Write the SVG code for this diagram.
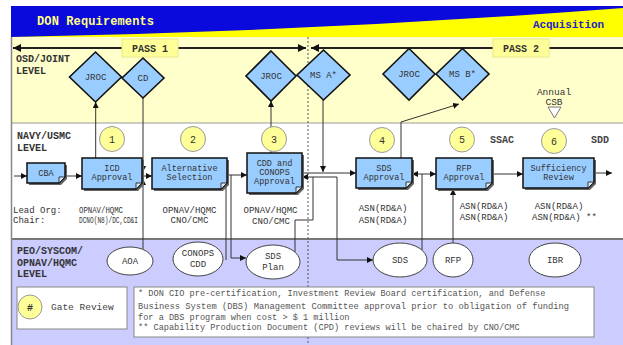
<svg xmlns="http://www.w3.org/2000/svg" width="623" height="345" viewBox="0 0 623 345">
<style>
.t{font-family:"Liberation Mono","DejaVu Sans Mono",monospace;fill:#333}
.lv{font-size:10px;font-weight:bold}
.bx{fill:#99CCFF;stroke:#111;stroke-width:1.5}
.sh{fill:#666}
.fd{fill:#D8E8F8;stroke:#111;stroke-width:0.8}
.dia{fill:#99CCFF;stroke:#111;stroke-width:1.6}
.num{fill:#FFFF99;stroke:#999;stroke-width:1}
.el{fill:#fff;stroke:#444;stroke-width:1}
.ln{fill:none;stroke:#333;stroke-width:1}
.bt{font-size:8.5px;text-anchor:middle}
.mt{font-size:9px;text-anchor:middle}
.ft{font-size:8.6px;fill:#555}
</style>
<defs>
<marker id="a" viewBox="0 0 6 6" refX="6" refY="3" markerWidth="6" markerHeight="6" markerUnits="userSpaceOnUse" orient="auto-start-reverse"><path d="M0,0 L6,3 L0,6 Z" fill="#111"/></marker>
<marker id="p" viewBox="0 0 8 8" refX="8" refY="4" markerWidth="8" markerHeight="8" markerUnits="userSpaceOnUse" orient="auto-start-reverse"><path d="M0,0 L8,4 L0,8 Z" fill="#111"/></marker>
</defs>
<rect width="623" height="345" fill="#fff"/>
<g id="zones">
<rect x="11" y="37" width="612" height="86" fill="#FFFFCC"/>
<rect x="11" y="123" width="612" height="116" fill="#fff"/>
<rect x="11" y="239" width="612" height="106" fill="#CCCCFF"/>
<line x1="11" y1="123" x2="623" y2="123" stroke="#999" stroke-width="1"/>
<line x1="11" y1="239" x2="623" y2="239" stroke="#777" stroke-width="2"/>
<line x1="11.5" y1="37" x2="11.5" y2="345" stroke="#888" stroke-width="1.5"/>
<line x1="308" y1="37" x2="308" y2="345" stroke="#555" stroke-width="1" stroke-dasharray="2,2"/>
</g>
<g id="banner">
<rect x="11" y="6" width="612" height="31" fill="#FFFF00"/>
<path d="M11,6 H623 V8 Q317,31.5 11,37 Z" fill="#0A0ADC"/>
<text class="t" x="37" y="25" style="font-size:12px;font-weight:bold;fill:#FFFF80" textLength="117">DON Requirements</text>
<text class="t" x="533" y="28" style="font-size:11px;font-weight:bold;fill:#2222CC" textLength="71">Acquisition</text>
</g>
<g id="pass">
<path d="M13,48 H306" stroke="#222" stroke-width="2" marker-start="url(#p)" marker-end="url(#p)"/>
<path d="M311,48 H623" stroke="#222" stroke-width="2" marker-start="url(#p)"/>
<rect x="122" y="39" width="56" height="18" fill="#FFFF99" stroke="#E8E890"/>
<text class="t" x="150" y="51.5" style="font-size:10px;font-weight:bold;text-anchor:middle">PASS 1</text>
<rect x="493" y="39" width="56" height="18" fill="#FFFF99" stroke="#E8E890"/>
<text class="t" x="521" y="51.5" style="font-size:10px;font-weight:bold;text-anchor:middle">PASS 2</text>
</g>
<g id="levels">
<text class="t lv" x="16" y="61.5">OSD/JOINT</text>
<text class="t lv" x="16" y="73.5">LEVEL</text>
<text class="t lv" x="17" y="138.5">NAVY/USMC</text>
<text class="t lv" x="17" y="150.5">LEVEL</text>
<text class="t lv" x="17" y="253.5">PEO/SYSCOM/</text>
<text class="t lv" x="17" y="265.5">OPNAV/HQMC</text>
<text class="t lv" x="17" y="276.5">LEVEL</text>
</g>
<g id="connectors">
<path class="ln" d="M14,176 H27" marker-end="url(#a)"/>
<path class="ln" d="M65,176 H82" marker-end="url(#a)"/>
<path class="ln" d="M142,176 H152" marker-end="url(#a)"/>
<path class="ln" d="M143,98 V172" marker-end="url(#a)"/>
<path class="ln" d="M143,249 V179" marker-end="url(#a)"/>
<path class="ln" d="M95.7,158 V102" marker-end="url(#a)"/>
<path class="ln" d="M227,175 H247" marker-end="url(#a)"/>
<path class="ln" d="M226,260 V178" marker-end="url(#a)"/>
<path class="ln" d="M231,175 V258 H246" marker-end="url(#a)"/>
<path class="ln" d="M271,153 V101" marker-end="url(#a)"/>
<path class="ln" d="M323,100 V172" marker-end="url(#a)"/>
<path class="ln" d="M302,173 H356" marker-end="url(#a)"/>
<path class="ln" d="M337,177 H302" marker-end="url(#a)"/>
<path class="ln" d="M337,177 V260 H373" marker-end="url(#a)"/>
<path class="ln" d="M295,252 V220 H313 V177"/>
<path class="ln" d="M422,250 V174"/>
<path class="ln" d="M422,174 H412" marker-end="url(#a)"/>
<path class="ln" d="M422,174 H436" marker-end="url(#a)"/>
<path class="ln" d="M453,243 V189" marker-end="url(#a)"/>
<path class="ln" d="M492,174 H523" marker-end="url(#a)"/>
<path class="ln" d="M594,173 H612" marker-end="url(#a)"/>
<path class="ln" d="M401,158 V122 L459,104" stroke="#555" marker-end="url(#a)"/>
</g>
<g id="jroc1"><path class="dia" d="M95.5,52 L121.5,77 L95.5,102 L69.5,77 Z"/><text class="t mt" x="95.5" y="80">JROC</text></g>
<g id="cd"><path class="dia" d="M143,58 L164,78 L143,98 L122,78 Z"/><text class="t mt" x="143" y="81">CD</text></g>
<g id="jroc2"><path class="dia" d="M271,51 L296,76 L271,101 L246,76 Z"/><text class="t mt" x="271" y="79">JROC</text></g>
<g id="msa"><path class="dia" d="M323.5,50 L350,75 L323.5,100 L297,75 Z"/><text class="t mt" x="323.5" y="78">MS A*</text></g>
<g id="jroc3"><path class="dia" d="M409,48.5 L435,74 L409,100 L383,74 Z"/><text class="t mt" x="409" y="77">JROC</text></g>
<g id="msb"><path class="dia" d="M462.5,48.5 L489,74 L462.5,100 L436,74 Z"/><text class="t mt" x="462.5" y="77">MS B*</text></g>
<g id="csb">
<text class="t" x="554" y="95" style="font-size:9.5px;text-anchor:middle">Annual</text>
<text class="t" x="554" y="105" style="font-size:9.5px;text-anchor:middle">CSB</text>
<path d="M548,107 H561 L554.5,118 Z" fill="#fff" stroke="#777"/>
</g>
<g id="n1"><circle class="num" cx="112" cy="139" r="12.5"/><text class="t" x="112" y="142.5" style="font-size:10px;text-anchor:middle">1</text></g>
<g id="n2"><circle class="num" cx="193" cy="139" r="12.5"/><text class="t" x="193" y="142.5" style="font-size:10px;text-anchor:middle">2</text></g>
<g id="n3"><circle class="num" cx="274" cy="139" r="12.5"/><text class="t" x="274" y="142.5" style="font-size:10px;text-anchor:middle">3</text></g>
<g id="n4"><circle class="num" cx="382" cy="140" r="12.5"/><text class="t" x="382" y="143.5" style="font-size:10px;text-anchor:middle">4</text></g>
<g id="n5"><circle class="num" cx="462" cy="139.5" r="12.5"/><text class="t" x="462" y="143" style="font-size:10px;text-anchor:middle">5</text></g>
<g id="n6"><circle class="num" cx="554" cy="141" r="12.5"/><text class="t" x="554" y="144.5" style="font-size:10px;text-anchor:middle">6</text></g>
<text class="t" x="502" y="142.5" style="font-size:10px;font-weight:bold;text-anchor:middle;fill:#444">SSAC</text>
<text class="t" x="600" y="142.5" style="font-size:10px;font-weight:bold;text-anchor:middle;fill:#444">SDD</text>
<g id="cba">
<path class="sh" d="M29,165 H67 V179 L61,185 H29 Z"/>
<path class="bx" d="M27,163 H65 V177 L59,183 H27 Z"/><path class="fd" d="M59,183 L65,177 L59,177 Z"/>
<text class="t bt" x="46" y="176">CBA</text>
</g>
<g id="icd">
<path class="sh" d="M84,160 H144 V185 L138,191 H84 Z"/>
<path class="bx" d="M82,158 H142 V183 L136,189 H82 Z"/><path class="fd" d="M136,189 L142,183 L136,183 Z"/>
<text class="t bt" x="112" y="171">ICD</text><text class="t bt" x="112" y="180">Approval</text>
</g>
<g id="alt">
<path class="sh" d="M154,160 H229 V185 L223,191 H154 Z"/>
<path class="bx" d="M152,158 H227 V183 L221,189 H152 Z"/><path class="fd" d="M221,189 L227,183 L221,183 Z"/>
<text class="t bt" x="189.5" y="171">Alternative</text><text class="t bt" x="189.5" y="180">Selection</text>
</g>
<g id="cdd">
<path class="sh" d="M249,155 H304 V189 L298,195 H249 Z"/>
<path class="bx" d="M247,153 H302 V187 L296,193 H247 Z"/><path class="fd" d="M296,193 L302,187 L296,187 Z"/>
<text class="t bt" x="274.5" y="166">CDD and</text><text class="t bt" x="274.5" y="174.5">CONOPS</text><text class="t bt" x="274.5" y="183.5">Approval</text>
</g>
<g id="sdsa">
<path class="sh" d="M358,160 H414 V184 L408,190 H358 Z"/>
<path class="bx" d="M356,158 H412 V182 L406,188 H356 Z"/><path class="fd" d="M406,188 L412,182 L406,182 Z"/>
<text class="t bt" x="384" y="171">SDS</text><text class="t bt" x="384" y="180">Approval</text>
</g>
<g id="rfpa">
<path class="sh" d="M438,160 H494 V185 L488,191 H438 Z"/>
<path class="bx" d="M436,158 H492 V183 L486,189 H436 Z"/><path class="fd" d="M486,189 L492,183 L486,183 Z"/>
<text class="t bt" x="464" y="171">RFP</text><text class="t bt" x="464" y="180">Approval</text>
</g>
<g id="suff">
<path class="sh" d="M525,160 H596 V184 L590,190 H525 Z"/>
<path class="bx" d="M523,158 H594 V182 L588,188 H523 Z"/><path class="fd" d="M588,188 L594,182 L588,182 Z"/>
<text class="t bt" x="558.5" y="171">Sufficiency</text><text class="t bt" x="558.5" y="180">Review</text>
</g>
<g id="orgs" class="t" style="font-size:9px">
<text x="13" y="212.5">Lead Org:</text><text x="79" y="212.5" textLength="44" lengthAdjust="spacingAndGlyphs">OPNAV/HQMC</text>
<text x="13" y="222.5">Chair:</text><text x="79" y="222.5" textLength="59" lengthAdjust="spacingAndGlyphs">DCNO(N8)/DC,CD&amp;I</text>
<text x="189.5" y="212.5" text-anchor="middle">OPNAV/HQMC</text><text x="189.5" y="222.5" text-anchor="middle">CNO/CMC</text>
<text x="270.5" y="213" text-anchor="middle">OPNAV/HQMC</text><text x="271" y="224" text-anchor="middle">CNO/CMC</text>
<text x="383" y="210.5" text-anchor="middle">ASN(RD&amp;A)</text><text x="383" y="222.5" text-anchor="middle">ASN(RD&amp;A)</text>
<text x="484" y="209" text-anchor="middle">ASN(RD&amp;A)</text><text x="484" y="219.5" text-anchor="middle">ASN(RD&amp;A)</text>
<text x="559" y="209" text-anchor="middle">ASN(RD&amp;A)</text><text x="532" y="219.5">ASN(RD&amp;A) **</text>
</g>
<g id="aoa"><ellipse class="el" cx="130" cy="261" rx="23" ry="14"/><text class="t mt" x="130" y="264">AOA</text></g>
<g id="conops"><ellipse class="el" cx="198" cy="259" rx="25" ry="17"/><text class="t mt" x="198" y="256">CONOPS</text><text class="t mt" x="198" y="267">CDD</text></g>
<g id="sdsplan"><ellipse class="el" cx="273" cy="262" rx="27" ry="17"/><text class="t mt" x="273" y="259">SDS</text><text class="t mt" x="273" y="270">Plan</text></g>
<g id="sds"><ellipse class="el" cx="400" cy="260" rx="27" ry="17"/><text class="t mt" x="400" y="263">SDS</text></g>
<g id="rfp"><ellipse class="el" cx="453" cy="260" rx="20" ry="17"/><text class="t mt" x="453" y="263">RFP</text></g>
<g id="ibr"><ellipse class="el" cx="555" cy="260" rx="26" ry="17"/><text class="t mt" x="555" y="263">IBR</text></g>
<g id="legend">
<rect x="17" y="287" width="110" height="42" fill="#fff" stroke="#888"/>
<circle class="num" cx="30" cy="307" r="12"/>
<text class="t" x="30" y="310.5" style="font-size:10px;font-weight:bold;text-anchor:middle">#</text>
<text class="t" x="51" y="310" style="font-size:9.5px;fill:#444">Gate Review</text>
</g>
<g id="notes">
<rect x="134" y="287" width="460" height="50" fill="#fff" stroke="#888"/>
<text class="t ft" x="138" y="296">* DON CIO pre-certification, Investment Review Board certification, and Defense</text>
<text class="t ft" x="138" y="308.5" textLength="431" lengthAdjust="spacingAndGlyphs">Business System (DBS) Management Committee approval prior to obligation of funding</text>
<text class="t ft" x="138" y="320">for a DBS program when cost &gt; $ 1 million</text>
<text class="t ft" x="138" y="329.5">** Capability Production Document (CPD) reviews will be chaired by CNO/CMC</text>
</g>
</svg>
